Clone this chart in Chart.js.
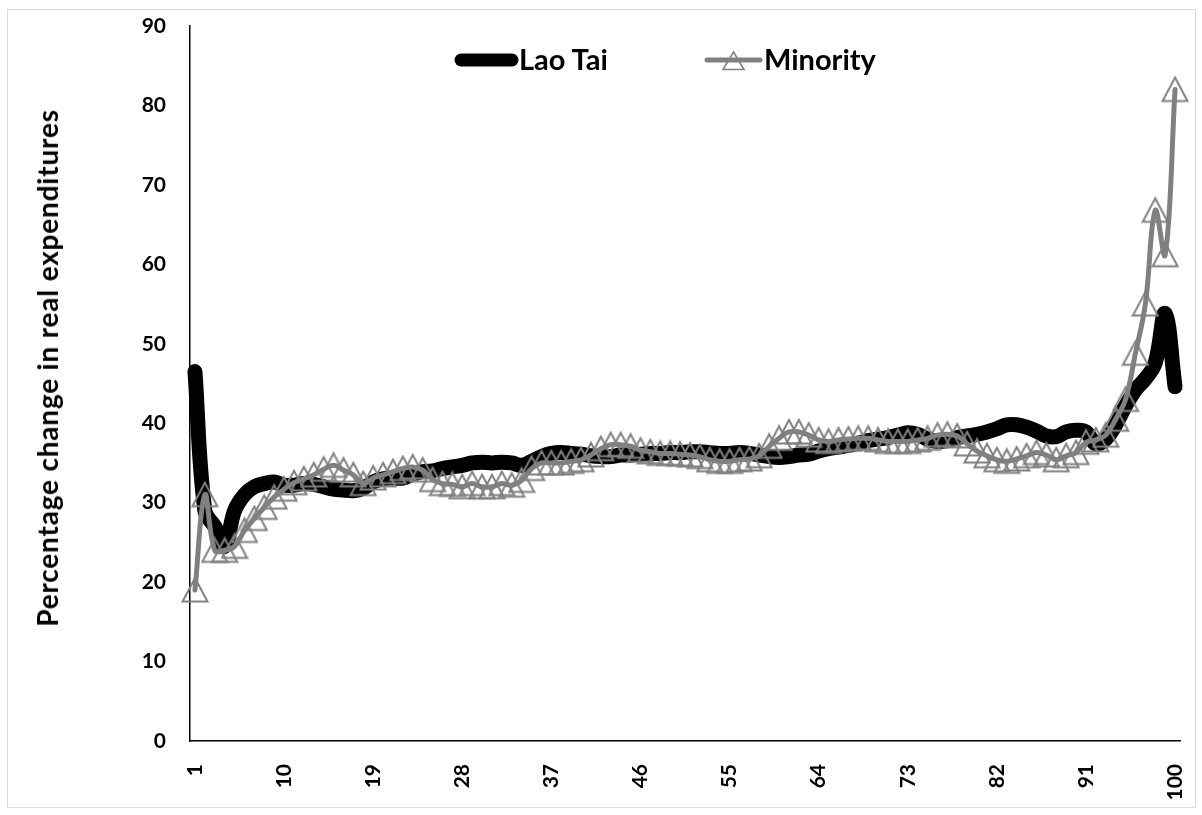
<!DOCTYPE html>
<html>
<head>
<meta charset="utf-8">
<script src="https://cdn.jsdelivr.net/npm/chart.js@4.4.1/dist/chart.umd.min.js"></script>
<style>
html,body{margin:0;padding:0;background:#fff;width:1202px;height:815px;overflow:hidden;font-family:Lato,"Open Sans",sans-serif;}
#frame{position:absolute;left:7px;top:9px;width:1187px;height:797px;border:1px solid #d9d9d9;pointer-events:none;}
#chart{position:absolute;left:0;top:0;}
#ytitle{position:absolute;left:47px;top:368px;transform:translate(-50%,-50%) rotate(-90deg);white-space:nowrap;font-weight:700;font-size:28px;letter-spacing:0.8px;color:#000;}
.legtxt{position:absolute;top:44px;line-height:29px;font-size:29px;font-weight:700;color:#000;white-space:nowrap;}
.legsym{position:absolute;}
</style>
</head>
<body>
<div id="frame"></div>
<canvas id="chart" width="1202" height="815"></canvas>
<div id="ytitle">Percentage change in real expenditures</div>
<svg class="legsym" style="left:452px;top:50px" width="70" height="20"><line x1="9" y1="10" x2="60" y2="10" stroke="#000" stroke-width="13" stroke-linecap="round"/></svg>
<div class="legtxt" style="left:519px">Lao Tai</div>
<svg class="legsym" style="left:703px;top:50px" width="62" height="24"><line x1="4" y1="10" x2="57" y2="10" stroke="#808080" stroke-width="5" stroke-linecap="round"/><polygon points="30.5,2 41,19.5 20,19.5" fill="none" stroke="#808080" stroke-width="1.6"/></svg>
<div class="legtxt" style="left:764px">Minority</div>
<script>
const CATEGORIES = [1,2,3,4,5,6,7,8,9,10,11,12,13,14,15,16,17,18,19,20,
  21,22,23,24,25,26,27,28,29,30,31,32,33,34,35,36,37,38,39,40,
  41,42,43,44,45,46,47,48,49,50,51,52,53,54,55,56,57,58,59,60,
  61,62,63,64,65,66,67,68,69,70,71,72,73,74,75,76,77,78,79,80,
  81,82,83,84,85,86,87,88,89,90,91,92,93,94,95,96,97,98,99,100];

const LAO_TAI = [46.5,29,27,24.5,29,31,32,32.4,32.6,32.2,
  32.2,32.4,32.3,32,31.7,31.6,31.5,31.8,32.6,33,
  33.1,33.1,33.6,33.9,34,34.3,34.5,34.7,35,35.1,
  35,35.1,35,34.7,35.2,35.8,36.2,36.3,36.2,36.1,
  35.9,35.8,35.8,36,36,36.1,36.2,36.2,36.3,36.3,
  36.4,36.4,36.3,36.2,36.2,36.3,36.2,36,35.8,35.7,
  35.8,36,36.1,36.5,36.8,37,37.2,37.5,37.8,38,
  38.2,38.5,38.8,38.6,38,37.7,37.8,38.2,38.4,38.6,
  38.9,39.3,39.8,39.8,39.5,39,38.4,38.3,38.9,39.1,
  38.9,37.4,38,39.8,42.2,44.2,45.6,47.6,53.8,44.6];

const MINORITY = [19,31,24,24,24.5,26.5,28,29.4,30.7,31.7,
  32.5,33,33.5,34.2,34.7,34.1,33.5,32.4,33.1,33.5,
  33.9,34.3,34.5,34.1,32.9,32.4,32.3,32,32.4,32,
  32,32.4,32.2,32.8,34.3,35,35,35,35.2,35.4,
  36,36.8,37.3,37.3,37.1,36.6,36.4,36.2,36.2,36.1,
  36,35.8,35.4,35.2,35.2,35.4,35.5,35.9,37.1,38.1,
  38.9,38.9,38.5,37.9,37.7,37.9,38,38.1,38.1,37.9,
  37.7,37.7,37.7,37.9,38.1,38.5,38.6,38.4,37.4,36.5,
  35.9,35.4,35.2,35.5,35.9,36.3,36,35.4,35.9,36.3,
  37.6,37.9,38.5,40.5,43,48.8,55,66.8,61.2,82];

const X_TICK_LABELS = ['1','10','19','28','37','46','55','64','73','82','91','100'];
const Y_MIN = 0, Y_MAX = 90, Y_STEP = 10;

// hollow triangle marker, centred on its box like the original
function makeTriangle() {
  const c = document.createElement('canvas');
  c.width = 28; c.height = 28;
  const g = c.getContext('2d');
  g.strokeStyle = '#808080';
  g.lineWidth = 2;
  g.lineJoin = 'miter';
  g.beginPath();
  g.moveTo(14, 2);
  g.lineTo(26.5, 25.5);
  g.lineTo(1.5, 25.5);
  g.closePath();
  g.stroke();
  return c;
}
const tri = makeTriangle();

const tickFont = {family: 'Lato', weight: 'bold', size: 21};

new Chart(document.getElementById('chart'), {
  type: 'line',
  data: {
    labels: CATEGORIES,
    datasets: [
      {label: 'Lao Tai', data: LAO_TAI, borderColor: '#000', backgroundColor: '#000',
       borderWidth: 15, pointRadius: 0, pointHoverRadius: 0, tension: 0.4, order: 1,
       borderCapStyle: 'round', borderJoinStyle: 'round', fill: false},
      {label: 'Minority', data: MINORITY, borderColor: '#808080', backgroundColor: 'rgba(0,0,0,0)',
       borderWidth: 5, pointStyle: tri, pointRadius: 13, pointHoverRadius: 13, tension: 0.4, order: 0,
       borderCapStyle: 'round', borderJoinStyle: 'round', fill: false}
    ]
  },
  options: {
    responsive: false,
    animation: false,
    events: [],
    layout: {padding: {top: 26, right: 22, left: 0, bottom: 0}},
    plugins: {legend: {display: false}, tooltip: {enabled: false}, title: {display: false}},
    scales: {
      x: {
        type: 'category',
        offset: true,
        grid: {display: false, drawTicks: false},
        border: {display: true, color: '#000', width: 1.5},
        ticks: {
          autoSkip: false, maxRotation: 90, minRotation: 90, padding: 23, color: '#000', font: tickFont,
          callback: function(v) { const l = String(this.getLabelForValue(v)); return X_TICK_LABELS.includes(l) ? l : ''; }
        },
        afterFit: s => { s.height = 74; s.paddingLeft = 0; s.paddingRight = 0; }
      },
      y: {
        min: Y_MIN, max: Y_MAX,
        grid: {display: false, drawTicks: false},
        border: {display: true, color: '#000', width: 1.5},
        ticks: {stepSize: Y_STEP, padding: 24, color: '#000', font: tickFont},
        afterFit: s => { s.width = 190; s.paddingTop = 0; s.paddingBottom = 0; }
      }
    }
  }
});
</script>
</body>
</html>
